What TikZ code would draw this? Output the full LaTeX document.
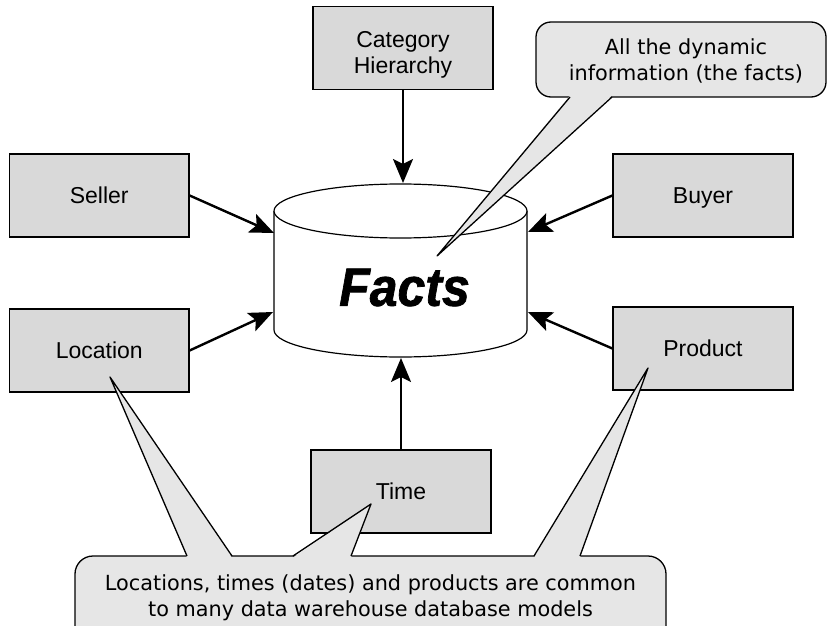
\documentclass[tikz,border=0pt]{standalone}
\usepackage{fontspec}
\usepackage{graphicx}
\setmainfont{Liberation Sans}
\newfontfamily\callfont{DejaVu Sans}
\newfontfamily\factsfam{Liberation Sans}[BoldItalicFeatures={FakeBold=1.4}]
\usetikzlibrary{arrows.meta}
\definecolor{boxgray}{HTML}{D9D9D9}
\definecolor{callgray}{HTML}{E6E6E6}
\begin{document}
\begin{tikzpicture}[x=1pt,y=-1pt,
  box/.style={draw=black, line width=1.3pt, fill=boxgray, minimum width=180pt, minimum height=83pt, inner sep=0pt, font=\fontsize{23}{27}\selectfont, text height=16.5pt, text depth=0pt},
  lbl/.style={align=center, inner sep=0pt, font=\fontsize{23}{26}\selectfont},
  arr/.style={line width=2.4pt, -{Stealth[length=24pt,width=20pt,inset=5pt]}},
  call/.style={draw=black, line width=1.3pt, fill=callgray},
  ptr/.style={draw=black, line width=1.3pt, line join=round},
  calltext/.style={align=center, inner sep=0pt, font=\callfont\fontsize{20.8}{26}\selectfont}]
\useasboundingbox (0,0) rectangle (827,626);
\clip (0,0) rectangle (827,626);

% boxes
\node[box] (cat) at (403,48) {};
\node[lbl] (catT) at (403,54.5) {Category\\Hierarchy};
\node[box, minimum width=179.5pt] (seller) at (99.25,195.5) {Seller};
\node[box] (buyer) at (703,195.5) {Buyer};
\node[box, minimum width=179.5pt] (location) at (99.25,350.5) {Location};
\node[box] (product) at (703,348.5) {Product};
\node[box] (time) at (401,491.5) {Time};

% cylinder
\fill[white] (274,211) -- (274,330) arc[start angle=180, end angle=360, x radius=126.5pt, y radius=27pt] -- (527,211) -- cycle;
\draw[line width=1.2pt] (274,211) -- (274,330) arc[start angle=180, end angle=360, x radius=126.5pt, y radius=27pt] -- (527,211);
\draw[line width=1.2pt, fill=white] (400.5,211) ellipse[x radius=126.5pt, y radius=27pt];
\node[inner sep=0pt, font=\factsfam\bfseries\itshape\fontsize{50}{60}\selectfont] (facts) at (404.5,287.5) {\scalebox{1}[1.08]{Facts}};

\coordinate (fT) at (401,183);
\coordinate (fL1) at (274,233);
\coordinate (fR1) at (528,232);
\coordinate (fL2) at (273,312);
\coordinate (fR2) at (528,312);
\coordinate (fB) at (401,358);

% arrows
\draw[arr] (cat.south) -- (cat.south |- fT);
\draw[arr] (seller.east) -- (fL1);
\draw[arr] (buyer.west) -- (fR1);
\draw[arr] (location.east) -- (fL2);
\draw[arr] (product.west) -- (fR2);
\draw[arr] (time.north) -- (time.north |- fB);

% top callout
\draw[call, rounded corners=15pt] (536,22) rectangle (826,97);
\coordinate (tTip) at (437,256);
\fill[callgray] (570,95.5) -- (tTip) -- (612,95.5) -- cycle;
\draw[ptr] (570,97) -- (tTip) -- (612,97);
\node[calltext] (callT) at (686,60.5) {All the dynamic\\information (the facts)};

% bottom callout
\draw[call, rounded corners=18pt] (75,556) rectangle (666,650);
\coordinate (lTip) at (110,377);
\coordinate (tiTip) at (371,504);
\coordinate (pTip) at (648,368);
\fill[callgray] (187,557.5) -- (lTip) -- (232,557.5) -- cycle;
\fill[callgray] (293,557.5) -- (tiTip) -- (351,557.5) -- cycle;
\fill[callgray] (534,557.5) -- (pTip) -- (580,557.5) -- cycle;
\draw[ptr] (187,556) -- (lTip) -- (232,556);
\draw[ptr] (293,556) -- (tiTip) -- (351,556);
\draw[ptr] (534,556) -- (pTip) -- (580,556);
\node[calltext] (callB) at (370.5,597.6) {Locations, times (dates) and products are common\\to many data warehouse database models};
\end{tikzpicture}
\end{document}
